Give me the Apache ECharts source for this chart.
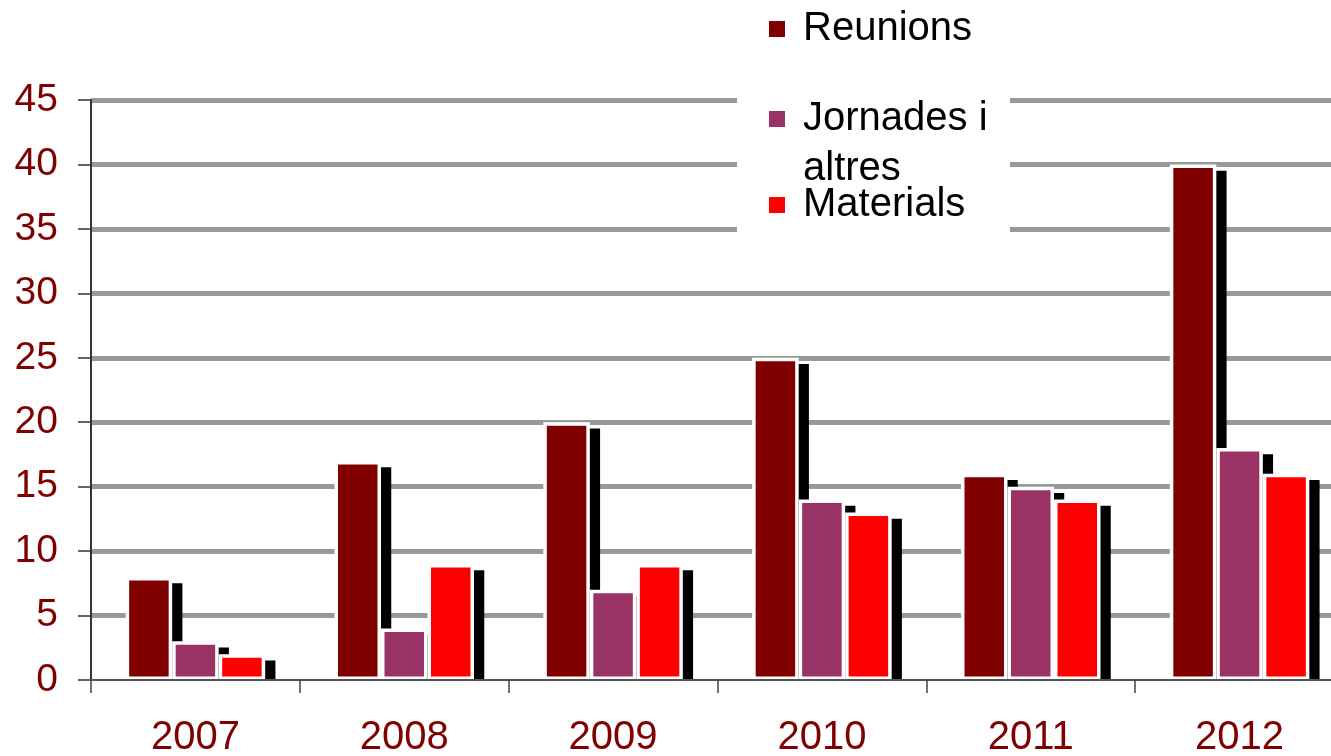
<!DOCTYPE html>
<html>
<head>
<meta charset="utf-8">
<script src="https://cdn.jsdelivr.net/npm/echarts@6/dist/echarts.min.js"></script>
<style>
  html, body { margin: 0; padding: 0; background: #fff; }
  #chart { width: 1331px; height: 756px; }
</style>
</head>
<body>
<div id="chart"></div>
<script>
const years = ['2007', '2008', '2009', '2010', '2011', '2012']
const reunions = [8, 17, 20, 25, 16, 40]
const jornades = [3, 4, 7, 14, 15, 18]
const materials = [2, 9, 9, 13, 14, 16]
const seriesNames = ['Reunions', 'Jornades i altres', 'Materials']
const colors = ['#800000', '#993366', '#ff0000']

const font = '"Liberation Sans", Arial, sans-serif'

// drop shadow is a second, hidden grid shifted right/down
const shadowDx = 8.5
const shadowDy = 6.25
const plotH = 580
const pxPerUnit = plotH / 45

function makeBar(name, data, color) {
  return {
    name: name,
    type: 'bar',
    data: data,
    barWidth: 46.5,
    barGap: '0%',
    itemStyle: { color: color, borderColor: '#fff', borderWidth: 3.5 },
    emphasis: { disabled: true }
  }
}

function makeShadow(data) {
  return {
    type: 'bar',
    xAxisIndex: 1,
    yAxisIndex: 1,
    data: data,
    barWidth: 50,
    barGap: '-7%',
    clip: true,
    silent: true,
    itemStyle: { color: '#000' },
    emphasis: { disabled: true },
    tooltip: { show: false }
  }
}

function makeLegend(name, top) {
  return {
    data: [name],
    left: 767,
    top: top,
    padding: 0,
    icon: 'rect',
    itemWidth: 18,
    itemHeight: 18,
    selectedMode: false,
    formatter: n => n === 'Jornades i altres' ? '\nJornades i\naltres' : n,
    textStyle: {
      fontFamily: font,
      fontSize: 40,
      color: '#000',
      lineHeight: 50,
      padding: [0, 0, 0, 12]
    }
  }
}

const chart = echarts.init(document.getElementById('chart'))

chart.setOption({
  animation: false,
  backgroundColor: '#fff',
  color: colors,
  grid: [
    { left: 91, top: 100, width: 1253, height: plotH, containLabel: false, outerBoundsMode: 'none' },
    { left: 91 + shadowDx, top: 100 + shadowDy, width: 1253, height: plotH - shadowDy, containLabel: false, outerBoundsMode: 'none' }
  ],
  graphic: [{
    type: 'rect',
    z: 3,
    shape: { x: 737, y: 0, width: 273, height: 235 },
    style: { fill: '#fff' }
  }],
  legend: [
    makeLegend(seriesNames[0], 4),
    makeLegend(seriesNames[1], 44),
    makeLegend(seriesNames[2], 180)
  ],
  xAxis: [{
    type: 'category',
    data: years,
    z: 3,
    axisLine: { lineStyle: { color: '#555', width: 2 } },
    axisTick: { show: true, length: 13, lineStyle: { color: '#444', width: 1.5 } },
    axisLabel: {
      margin: 38,
      fontFamily: font,
      fontSize: 40,
      color: '#800000'
    },
    splitLine: { show: false }
  }, {
    type: 'category',
    gridIndex: 1,
    data: years,
    show: false
  }],
  yAxis: [{
    type: 'value',
    min: 0,
    max: 45,
    interval: 5,
    axisLine: { show: true, lineStyle: { color: '#333', width: 2 } },
    axisTick: { show: true, length: 13, lineStyle: { color: '#333', width: 1.5 } },
    axisLabel: {
      margin: 33,
      fontFamily: font,
      fontSize: 39,
      color: '#800000'
    },
    splitLine: {
      show: true,
      showMinLine: false,
      lineStyle: { color: '#999', width: 5 }
    }
  }, {
    type: 'value',
    gridIndex: 1,
    min: shadowDy / pxPerUnit,
    max: 45,
    show: false,
    splitLine: { show: false }
  }],
  series: [
    makeShadow(reunions),
    makeShadow(jornades),
    makeShadow(materials),
    makeBar(seriesNames[0], reunions, colors[0]),
    makeBar(seriesNames[1], jornades, colors[1]),
    makeBar(seriesNames[2], materials, colors[2])
  ]
})
</script>
</body>
</html>
